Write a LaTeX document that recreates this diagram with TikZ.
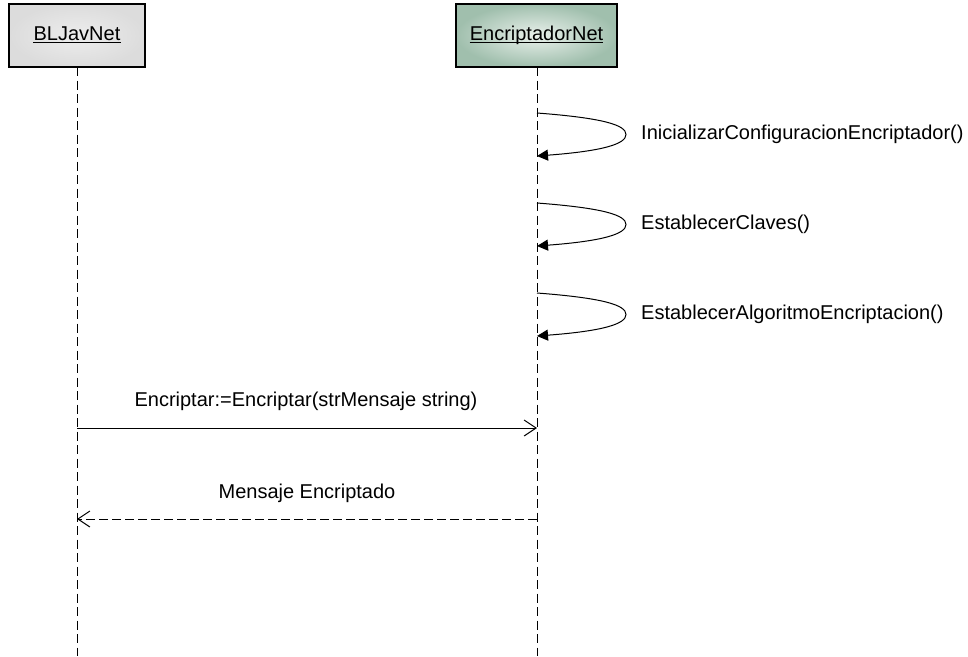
\documentclass[tikz,border=0pt]{standalone}
\usepackage{fontspec}
\setmainfont{Liberation Sans}
\usetikzlibrary{arrows.meta}

\definecolor{greyedge}{HTML}{DCDCDC}
\definecolor{greycore}{HTML}{EDEDED}
\definecolor{greenedge}{HTML}{A0BFAD}
\definecolor{greencore}{HTML}{EAF1EC}

\tikzset{
  objbox/.style={draw=black, line width=1.4pt, rectangle, inner sep=0pt},
  greybox/.style={objbox, inner color=greycore, outer color=greyedge},
  greenbox/.style={objbox, inner color=greencore, outer color=greenedge},
  objname/.style={inner sep=0pt, anchor=base},
  uline/.style={line width=1.2pt},
  lifeline/.style={line width=0.9pt, dash pattern=on 9pt off 4.5pt},
  selfmsg/.style={line width=1pt, -{Triangle[length=11pt,width=11pt]}},
  callmsg/.style={line width=1pt, -{Straight Barb[length=12pt,width=16pt,line width=1pt]}},
  replymsg/.style={line width=1pt, dash pattern=on 9pt off 4pt, -{Straight Barb[length=12pt,width=16pt,line width=1pt]}},
  msglabel/.style={inner sep=0pt}
}

\begin{document}
\begin{tikzpicture}[x=1pt, y=-1pt, font=\fontsize{20}{23}\selectfont]
\useasboundingbox (0,0) rectangle (968,656);

% object boxes
\node[greybox, minimum width=136pt, minimum height=63pt] (bl) at (77,35.5) {};
\node[greenbox, minimum width=161pt, minimum height=63pt] (en) at (536.5,35.5) {};

% object names, underlined
\node[objname] (blname) at (77,40) {BLJavNet};
\draw[uline] ([yshift=-2.8pt]blname.base west) -- ([yshift=-2.8pt]blname.base east);
\node[objname] (enname) at (536.5,40) {EncriptadorNet};
\draw[uline] ([yshift=-2.8pt]enname.base west) -- ([yshift=-2.8pt]enname.base east);

% lifelines
\coordinate (bltop) at (77,67);
\coordinate (blend) at (77,656);
\coordinate (entop) at (537,67);
\coordinate (enend) at (537,656);
\draw[lifeline] (bltop) -- (blend);
\draw[lifeline] (entop) -- (enend);

% self messages on EncriptadorNet
\coordinate (s1a) at (537,113);
\coordinate (s1t) at (626,134.5);
\coordinate (s1b) at (537,156);
\draw[selfmsg] (s1a) .. controls (603,118) and (626,125) .. (s1t)
  .. controls (626,144) and (603,151) .. (s1b);
\node[msglabel, anchor=west] (l1) at (641,134.5) {InicializarConfiguracionEncriptador()};

\coordinate (s2a) at (537,203);
\coordinate (s2t) at (626,224.5);
\coordinate (s2b) at (537,246);
\draw[selfmsg] (s2a) .. controls (603,208) and (626,215) .. (s2t)
  .. controls (626,234) and (603,241) .. (s2b);
\node[msglabel, anchor=west] (l2) at (641,224.5) {EstablecerClaves()};

\coordinate (s3a) at (537,293);
\coordinate (s3t) at (626,314.5);
\coordinate (s3b) at (537,336);
\draw[selfmsg] (s3a) .. controls (603,298) and (626,305) .. (s3t)
  .. controls (626,324) and (603,331) .. (s3b);
\node[msglabel, anchor=west] (l3) at (641,314.5) {EstablecerAlgoritmoEncriptacion()};

% call and reply
\coordinate (c1s) at (77,428);
\coordinate (c1e) at (537,428);
\draw[callmsg] (c1s) -- (c1e);
\node[msglabel] (lc) at (306,401) {Encriptar:=Encriptar(strMensaje string)};

\coordinate (r1s) at (537,519);
\coordinate (r1e) at (77,519);
\draw[replymsg] (r1s) -- (r1e);
\node[msglabel] (lr) at (307,493) {Mensaje Encriptado};
\end{tikzpicture}
\end{document}
